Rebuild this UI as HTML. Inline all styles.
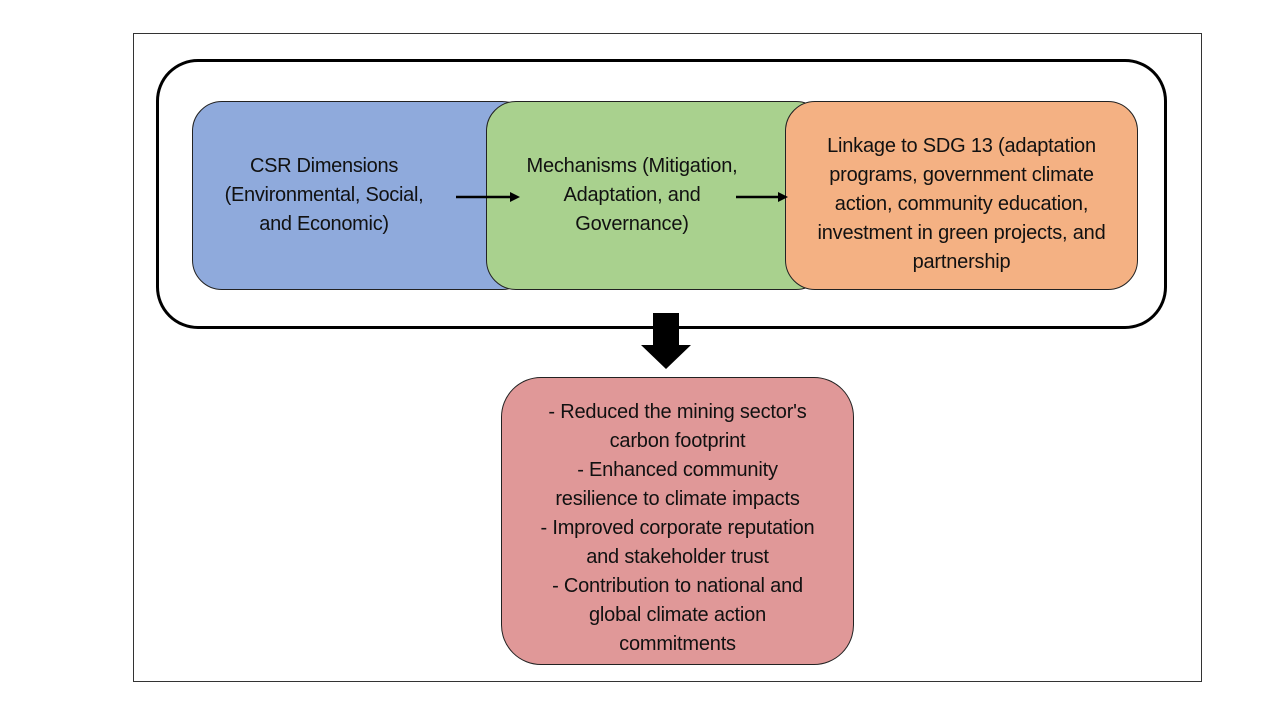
<!DOCTYPE html>
<html><head><style>
body{margin:0;width:1280px;height:720px;background:#fff;position:relative;font-family:"Liberation Sans",sans-serif;overflow:hidden}
div{position:absolute;box-sizing:border-box}
.box{border:1px solid #222;border-radius:30px;text-align:center;font-size:20px;line-height:29px;color:#111;white-space:nowrap}
.t{position:absolute;left:0;width:100%;text-align:center}
</style></head><body>
<div style="left:133px;top:33px;width:1069px;height:649px;border:1px solid #333"></div>
<div style="left:156px;top:59px;width:1011px;height:270px;border:3px solid #000;border-radius:42px"></div>
<div class="box" style="left:192px;top:101px;width:340px;height:189px;background:#8faadc"><div class="t" style="left:-38px;top:50px;letter-spacing:-0.3px">CSR Dimensions<br>(Environmental, Social,<br>and Economic)</div></div>
<div class="box" style="left:486px;top:101px;width:340px;height:189px;background:#a9d18e"><div class="t" style="left:-24px;top:50px;letter-spacing:-0.2px">Mechanisms (Mitigation,<br>Adaptation, and<br>Governance)</div></div>
<div class="box" style="left:785px;top:101px;width:353px;height:189px;background:#f4b183"><div class="t" style="top:30px;letter-spacing:-0.2px">Linkage to SDG 13 (adaptation<br>programs, government climate<br>action, community education,<br>investment in green projects, and<br>partnership</div></div>
<svg style="position:absolute;left:0;top:0" width="1280" height="720">
<line x1="456" y1="197" x2="512" y2="197" stroke="#000" stroke-width="2.5"/><polygon points="520,197 510,192 510,202" fill="#000"/>
<line x1="736" y1="197" x2="780" y2="197" stroke="#000" stroke-width="2.5"/><polygon points="788,197 778,192 778,202" fill="#000"/>
<polygon points="653,313 679,313 679,345 691,345 666,369 641,345 653,345" fill="#000"/>
</svg>
<div class="box" style="left:501px;top:377px;width:353px;height:288px;background:#e09898;border-radius:40px"><div class="t" style="top:20px;letter-spacing:-0.2px">- Reduced the mining sector's<br>carbon footprint<br>- Enhanced community<br>resilience to climate impacts<br>- Improved corporate reputation<br>and stakeholder trust<br>- Contribution to national and<br>global climate action<br>commitments</div></div>
</body></html>
